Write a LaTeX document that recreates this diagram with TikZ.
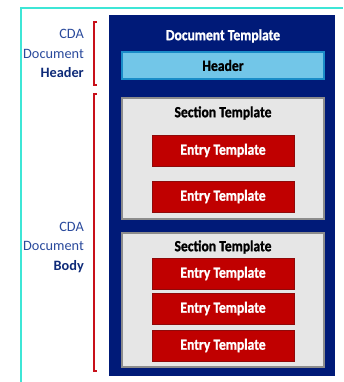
\documentclass[tikz,border=0pt]{standalone}
\usepackage{fontspec}
\setmainfont{Carlito}
\newfontfamily\boxfont[FakeStretch=0.88,FakeBold=1.2]{Carlito}
\definecolor{navy}{HTML}{001A78}
\definecolor{teal1}{HTML}{3EE6D6}
\definecolor{hdrfill}{HTML}{72C6E8}
\definecolor{hdrdraw}{HTML}{1A8CC8}
\definecolor{secfill}{HTML}{E6E6E6}
\definecolor{secdraw}{HTML}{8C8C8C}
\definecolor{entfill}{HTML}{C00000}
\definecolor{entdraw}{HTML}{8E0A0A}
\definecolor{lblblue}{HTML}{2A4A9C}
\definecolor{lbldark}{HTML}{0E2A78}
\definecolor{brk}{HTML}{C8101A}
\begin{document}
\begin{tikzpicture}[x=1pt,y=-1pt,
  txt/.style={font=\boxfont\fontsize{15.5}{18}\selectfont\bfseries},
  entrybox/.style={fill=entfill,draw=entdraw,line width=0.8pt,text=white,txt,minimum width=142pt,minimum height=31pt,inner sep=0pt},
  secbox/.style={fill=secfill,draw=secdraw,line width=1.2pt},
  bracketline/.style={draw=brk,line width=1.6pt},
  lbl/.style={align=right,anchor=east,font=\fontsize{14.3}{19.5}\selectfont,text=lblblue,inner sep=0pt}]
\useasboundingbox (0,0) rectangle (343,382);
% teal frame
\draw[teal1,line width=2.6pt] (21,382) -- (21,8) -- (343,8);
% main blue box
\node[fill=navy,draw=none,minimum width=226pt,minimum height=361pt,inner sep=0pt,anchor=north west] (doc) at (109,15) {};
\node[txt,text=white] (doctitle) at (223,36) {Document Template};
% header
\node[fill=hdrfill,draw=hdrdraw,line width=1.2pt,minimum width=202pt,minimum height=27pt,inner sep=0pt,txt,text=black] (hdr) at (223,65.5) {Header};
% section 1
\draw[secbox] (122,98) rectangle (324,219);
\node[txt] (sec1) at (223,113) {Section Template};
\node[entrybox] (e1) at (223,150.5) {Entry Template};
\node[entrybox] (e2) at (223,196.5) {Entry Template};
% section 2
\draw[secbox] (122,233) rectangle (324,367);
\node[txt] (sec2) at (223,247) {Section Template};
\node[entrybox] (e3) at (223,273.5) {Entry Template};
\node[entrybox] (e4) at (223,308.5) {Entry Template};
\node[entrybox] (e5) at (223,345.5) {Entry Template};
% brackets
\draw[bracketline] (97,22) -- (94,22) -- (94,85) -- (97,85);
\draw[bracketline] (97,94) -- (94,94) -- (94,371) -- (97,371);
% labels
\node[lbl] (lh) at (84,53.5) {CDA\\Document\\\textcolor{lbldark}{\bfseries Header}};
\node[lbl] (lb) at (84,247) {CDA\\Document\\\textcolor{lbldark}{\bfseries Body}};
\end{tikzpicture}
\end{document}
